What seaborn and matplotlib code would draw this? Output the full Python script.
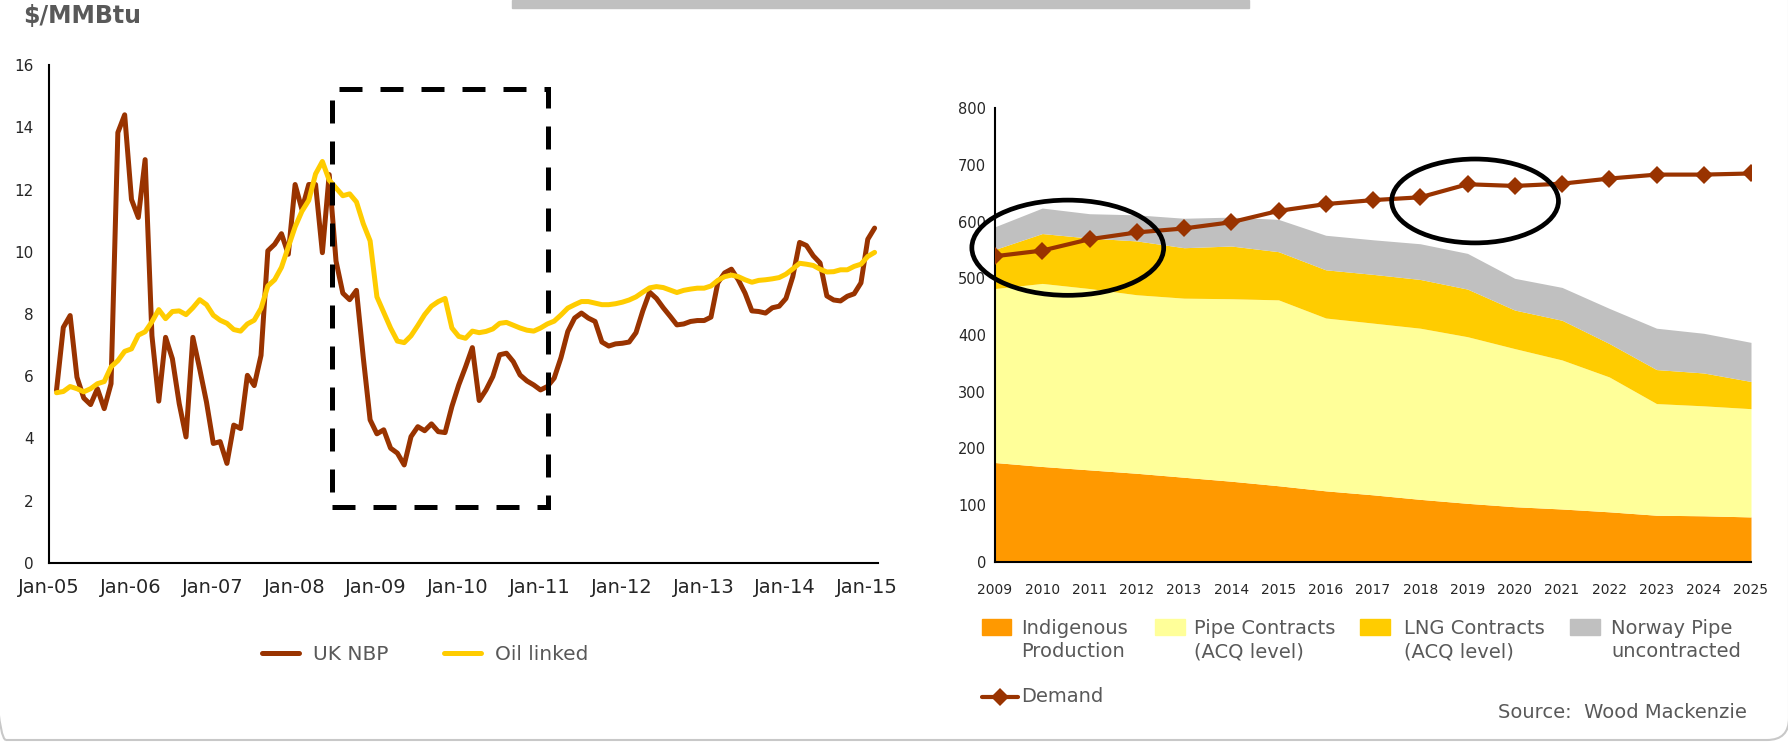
import numpy as np
import pandas as pd
import matplotlib
matplotlib.use("Agg")
import matplotlib.pyplot as plt
import matplotlib.transforms as mtransforms
from matplotlib.patches import Rectangle, Ellipse, FancyBboxPatch
from matplotlib.lines import Line2D
import seaborn as sns

sns.set_style("white")
plt.rcParams["font.family"] = ["DejaVu Sans"]

# ===============================
# Data - left panel (monthly, Jan-05 .. Jan-15)
# ===============================
uk_nbp = [
    5.55, 7.57, 7.95, 5.97, 5.3, 5.09, 5.6, 4.96, 5.76, 13.83, 14.4, 11.68,
    11.1, 12.96, 7.3, 5.2, 7.25, 6.56, 5.12, 4.05, 7.25, 6.24, 5.17, 3.84,
    3.9, 3.2, 4.43, 4.32, 6.03, 5.7, 6.67, 10.03, 10.24, 10.58, 9.92, 12.16,
    11.36, 12.16, 12.16, 9.97, 12.48, 9.7, 8.67, 8.46, 8.76, 6.6, 4.6, 4.15,
    4.28, 3.69, 3.53, 3.15, 4.06, 4.38, 4.25, 4.47, 4.22, 4.19, 5.03, 5.72,
    6.3, 6.92, 5.22, 5.56, 5.99, 6.69, 6.74, 6.47, 6.04, 5.85, 5.72, 5.56,
    5.67, 5.94, 6.6, 7.44, 7.87, 8.03, 7.87, 7.76, 7.1, 6.97, 7.04, 7.06,
    7.1, 7.4, 8.1, 8.7, 8.5, 8.2, 7.93, 7.65, 7.68, 7.76, 7.79, 7.79,
    7.9, 9.0, 9.32, 9.44, 9.1, 8.67, 8.1, 8.08, 8.03, 8.2, 8.25, 8.5,
    9.2, 10.3, 10.2, 9.87, 9.64, 8.58, 8.45, 8.42, 8.57, 8.65, 9.0, 10.4,
    10.76,
]
oil_linked = [
    5.47, 5.51, 5.67, 5.6, 5.5, 5.6, 5.76, 5.83, 6.3, 6.5, 6.8, 6.88,
    7.32, 7.43, 7.75, 8.14, 7.85, 8.08, 8.1, 7.98, 8.2, 8.46, 8.3, 7.96,
    7.8, 7.7, 7.5, 7.45, 7.68, 7.8, 8.18, 8.9, 9.1, 9.5, 10.15, 10.8,
    11.3, 11.65, 12.5, 12.9, 12.3, 12.05, 11.8, 11.86, 11.6, 10.9, 10.35, 8.55,
    8.05, 7.55, 7.13, 7.08, 7.3, 7.63, 7.98, 8.25, 8.4, 8.5, 7.55, 7.28,
    7.22, 7.45, 7.4, 7.44, 7.52, 7.7, 7.73, 7.64, 7.55, 7.48, 7.45, 7.55,
    7.68, 7.77, 7.97, 8.19, 8.3, 8.4, 8.4, 8.35, 8.3, 8.3, 8.33, 8.38,
    8.45, 8.55, 8.7, 8.84, 8.88, 8.85, 8.77, 8.69, 8.76, 8.8, 8.83, 8.83,
    8.9, 9.08, 9.2, 9.25, 9.2, 9.1, 9.02, 9.08, 9.1, 9.13, 9.17, 9.28,
    9.45, 9.63, 9.6, 9.56, 9.44, 9.35, 9.36, 9.42, 9.42, 9.53, 9.6, 9.85,
    9.98,
]
month_labels = ["Jan-05", "Jan-06", "Jan-07", "Jan-08", "Jan-09", "Jan-10",
                "Jan-11", "Jan-12", "Jan-13", "Jan-14", "Jan-15"]

# ===============================
# Data - right panel (annual supply stack and demand)
# ===============================
years = list(range(2009, 2026))
indigenous = [175, 168, 162, 156, 149, 142, 134, 125, 118, 110, 103, 97, 93, 88, 82, 81, 79]
pipe_contracts = [307, 323, 320, 315, 316, 322, 328, 305, 303, 302, 294, 279, 263, 238, 197, 194, 191]
lng_contracts = [69, 88, 89, 95, 89, 93, 85, 85, 86, 86, 84, 68, 70, 59, 60, 58, 48]
norway_pipe = [40, 45, 43, 46, 52, 51, 57, 61, 61, 63, 63, 56, 58, 62, 73, 70, 69]
demand = [539, 549, 569, 581, 588, 599, 619, 631, 638, 643, 666, 663, 667, 676, 683, 683, 685]

stack_labels = ["Indigenous\nProduction", "Pipe Contracts\n(ACQ level)",
                "LNG Contracts\n(ACQ level)", "Norway Pipe\nuncontracted"]
stack_colors = ["#FF9900", "#FFFF99", "#FFCC00", "#C0C0C0"]

BROWN = "#993300"
GOLD = "#FFCC00"
GREY_TXT = "#595959"

W, H = 1788, 743
fig = plt.figure(figsize=(W / 100, H / 100), dpi=100)

# ===============================
# Left panel: gas prices
# ===============================
ax1 = fig.add_axes([49 / W, 1 - 563 / H, (878 - 49) / W, (563 - 65) / H])

prices = pd.DataFrame({
    "pos": np.arange(len(uk_nbp)) + 0.5,
    "UK NBP": uk_nbp,
    "Oil linked": oil_linked,
})
prices_long = prices.melt(id_vars="pos", var_name="series", value_name="price")
sns.lineplot(data=prices_long, x="pos", y="price", hue="series",
             palette={"UK NBP": BROWN, "Oil linked": GOLD},
             linewidth=3.6, legend=False, ax=ax1,
             solid_joinstyle="round", solid_capstyle="round")

ax1.set_xlim(0, 121)
ax1.set_ylim(0, 16)
ax1.set_xlabel("")
ax1.set_ylabel("")
ax1.set_yticks(range(0, 17, 2))
ax1.set_xticks([12 * k - 0.6 for k in range(len(month_labels))])
ax1.set_xticklabels(month_labels)
ax1.set_xticks(range(0, 122, 11), minor=True)
ax1.tick_params(axis="x", which="major", length=0, pad=11, labelsize=14)
ax1.tick_params(axis="x", which="minor", direction="in", length=4.5, width=1.1)
ax1.tick_params(axis="y", direction="in", length=4.5, width=1.1, pad=11, labelsize=11)

# dashed highlight box
ax1.add_patch(Rectangle((40.9, 1.8), 72.55 - 40.9, 15.23 - 1.8, fill=False,
                        edgecolor="black", linewidth=3.6,
                        linestyle=(0, (4.6, 3.6)), clip_on=False, zorder=5))

fig.legend(handles=[Line2D([], [], color=BROWN, lw=3.6),
                    Line2D([], [], color=GOLD, lw=3.6)],
           labels=["UK NBP", "Oil linked"], loc="center",
           bbox_to_anchor=(425 / W, 1 - 655 / H), ncol=2, frameon=False,
           fontsize=14.5, handlelength=1.85, handletextpad=0.7,
           columnspacing=2.75, labelcolor=GREY_TXT)

# ===============================
# Right panel: supply vs demand
# ===============================
ax2 = fig.add_axes([995 / W, 1 - 561.7 / H, (1751 - 995) / W, (561.7 - 108.3) / H])

ax2.stackplot(years, indigenous, pipe_contracts, lng_contracts, norway_pipe,
              colors=stack_colors, linewidth=0)
sns.lineplot(x=years, y=demand, color=BROWN, linewidth=3, marker="D",
             markersize=9, markeredgewidth=0, ax=ax2, zorder=6)

ax2.add_patch(Ellipse((2010.54, 554), 4.06, 168, fill=False, edgecolor="black",
                      linewidth=3.4, zorder=7, clip_on=False))
ax2.add_patch(Ellipse((2019.16, 636.5), 3.53, 148, fill=False, edgecolor="black",
                      linewidth=3.4, zorder=7, clip_on=False))

ax2.set_xlim(2009, 2025)
ax2.set_ylim(0, 800)
ax2.set_xticks(years)
ax2.set_yticks(range(0, 801, 100))
ax2.tick_params(axis="x", direction="in", length=6.5, width=1.1, pad=15, labelsize=10)
ax2.tick_params(axis="y", direction="in", length=6, width=1.1, pad=6.5, labelsize=10.5)

for ax in (ax1, ax2):
    sns.despine(ax=ax)
    for side in ("left", "bottom"):
        ax.spines[side].set_color("black")
        ax.spines[side].set_linewidth(1.5)
    ax.set_facecolor("none")

# right legend, laid out by hand like the original
legend_x = [(982, 1011, 1021), (1155, 1185, 1194), (1360, 1390, 1404), (1570, 1600, 1611)]
for (x0, x1, tx), lab, col in zip(legend_x, stack_labels, stack_colors):
    fig.add_artist(Rectangle((x0 / W, 1 - 635 / H), (x1 - x0) / W, 16 / H,
                             transform=fig.transFigure, color=col))
    fig.text(tx / W, 1 - 640 / H, lab, ha="left", va="center", fontsize=14,
             color=GREY_TXT, linespacing=1.3)

fig.add_artist(Line2D([982 / W, 1000 / W, 1018 / W], [1 - 697 / H] * 3,
                      transform=fig.transFigure, color=BROWN, lw=3,
                      marker="D", markersize=9, markevery=[1], markeredgewidth=0))
fig.text(1021 / W, 1 - 697 / H, "Demand", ha="left", va="center", fontsize=14,
         color=GREY_TXT)
fig.text(1747 / W, 1 - 713 / H, "Source:  Wood Mackenzie", ha="right", va="center",
         fontsize=14, color=GREY_TXT)

# ===============================
# Page furniture
# ===============================
fig.text(23 / W, 1 - 16 / H, "$/MMBtu", ha="left", va="center", fontsize=17,
         fontweight="bold", color=GREY_TXT)
fig.add_artist(Rectangle((512 / W, 1 - 8 / H), 737 / W, 8 / H,
                         transform=fig.transFigure, color="#C0C0C0"))
fig.add_artist(FancyBboxPatch((-16, 3), 1805, 800,
                              boxstyle="round,pad=0,rounding_size=22",
                              transform=mtransforms.IdentityTransform(),
                              fill=False, edgecolor="#C8C8C8", linewidth=1.5))

fig.savefig("out.png", dpi=100)
